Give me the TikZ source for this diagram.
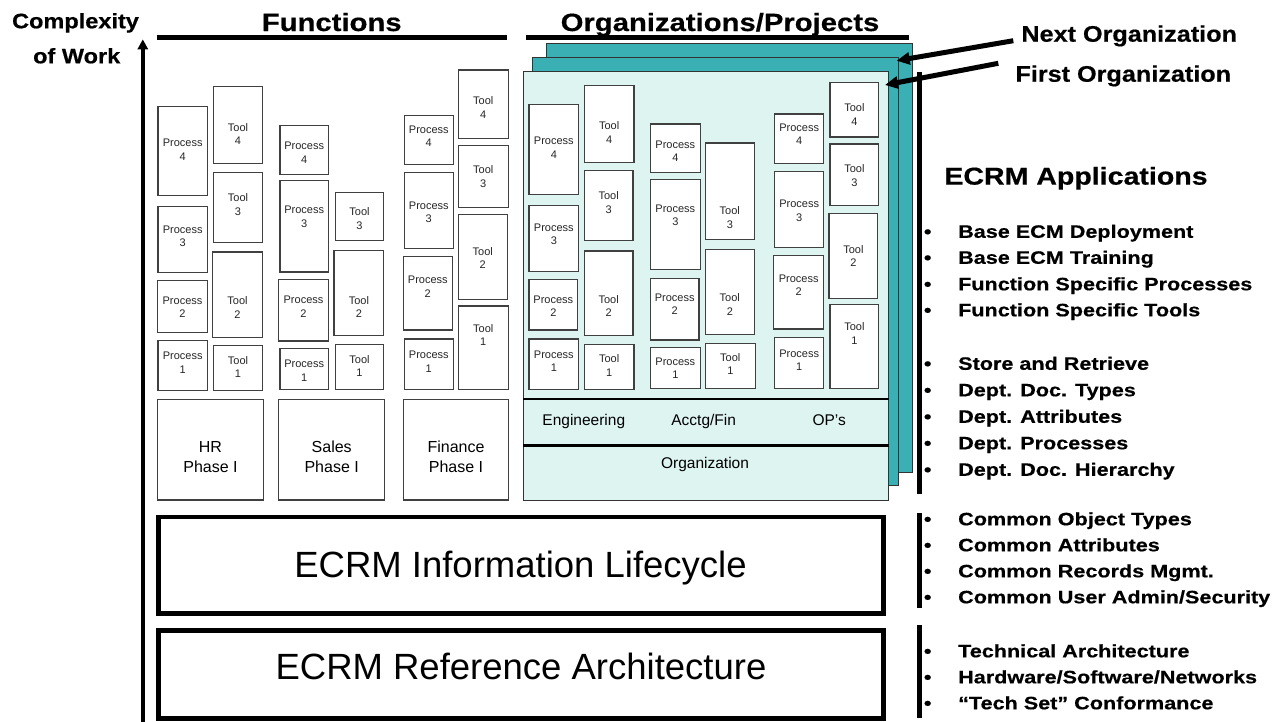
\documentclass[tikz,border=0pt]{standalone}
\usepackage{fontspec}
\setmainfont{Liberation Sans}
\newfontfamily\headsans{Liberation Sans}[FakeStretch=1.17, BoldFeatures={FakeBold=0.5}]
\newfontfamily\notesans{Liberation Sans}[FakeStretch=1.12, BoldFeatures={FakeBold=0.5}]
\newfontfamily\listsans{Liberation Sans}[FakeStretch=1.2, BoldFeatures={FakeBold=0.5}]
\usetikzlibrary{arrows.meta}
\definecolor{sheetteal}{RGB}{58,175,180}
\definecolor{sheetpale}{RGB}{221,244,241}
\definecolor{cellline}{RGB}{64,64,64}
\newcommand\bul{\makebox[34.3pt][l]{\textbullet}}
\tikzset{
  sheet/.style={draw=black!80, line width=1pt, rectangle, inner sep=0pt},
  cell/.style={draw=cellline, line width=1.1pt, fill=white, rectangle, inner sep=0pt},
  celltext/.style={align=center, inner sep=0pt, text=black!85,
    font=\fontsize{11}{13.3}\selectfont},
  phasetext/.style={align=center, inner sep=0pt, font=\fontsize{16}{20}\selectfont},
  orgtext/.style={inner sep=0pt, anchor=base, font=\fontsize{15.5}{18}\selectfont},
  bigbox/.style={draw=black, line width=4.5pt, fill=white, rectangle, inner sep=0pt},
  bigtext/.style={inner sep=0pt, anchor=base, font=\fontsize{36.5}{40}\selectfont},
  headtext/.style={inner sep=0pt, anchor=base, font=\headsans\bfseries\fontsize{25}{30}\selectfont},
  notetext/.style={inner sep=0pt, anchor=base, font=\notesans\bfseries\fontsize{21}{25}\selectfont},
  pointer/.style={line width=5pt, -{Triangle[length=13pt,width=12pt]}},
  listtext/.style={inner sep=0pt, anchor=base west, font=\listsans\bfseries\fontsize{18}{22}\selectfont},
  rule/.style={line width=5pt},
  bar/.style={line width=4.5pt},
}
\begin{document}
\begin{tikzpicture}[x=1pt,y=-1pt]
\useasboundingbox (0,0) rectangle (1284,721);
\fill[white] (0,0) rectangle (1284,721);

% headings and their rules
\node[headtext] (functions) at (331.7,31) {Functions};
\node[headtext] (orgs) at (720,31) {Organizations/Projects};
\draw[rule] (156.7,37.7) -- (506.7,37.7);
\draw[rule] (526,37.7) -- (909,37.7);

% vertical axis
\node[notetext] (cx1) at (75.5,28.3) {Complexity};
\node[notetext] (cx2) at (76.7,63.3) {of Work};
\coordinate (axbot) at (142.8,722);
\coordinate (axtop) at (142.8,39.3);
\draw[line width=4.5pt, -{Triangle[length=10pt,width=10pt]}] (axbot) -- (axtop);

% stacked organization sheets
\node[sheet, fill=sheetteal, minimum width=365.8pt, minimum height=428.7pt] (backsheet) at (729.6,257.65) {};
\node[sheet, fill=sheetteal, minimum width=366.2pt, minimum height=427.8pt] (midsheet) at (715.4,271.6) {};
\node[sheet, fill=sheetpale, minimum width=365.4pt, minimum height=428.8pt] (frontsheet) at (706,286.1) {};
\draw[line width=2.5pt] (523.3,399) -- (888.7,399);
\draw[line width=2.5pt] (523.3,445.7) -- (888.7,445.7);
\node[orgtext] (eng) at (583.8,425) {Engineering};
\node[orgtext] (acc) at (703.7,425) {Acctg/Fin};
\node[orgtext] (ops) at (829.2,425) {OP’s};
\node[orgtext] (organization) at (705,468) {Organization};

% process and tool cells
\foreach \nm/\xa/\ya/\xb/\yb/\lab/\num/\ty in {
  hrP4/158/106.7/207.3/195.7/Process/4/149.7,
  hrT4/213.7/86.7/262.3/163.7/Tool/4/134,
  hrP3/158/206.7/207.3/272.7/Process/3/236.2,
  hrT3/213.7/172.7/262.3/242.3/Tool/3/204.5,
  hrP2/157.7/280.7/207.3/332.3/Process/2/307.5,
  hrT2/212.7/252/262.3/337.7/Tool/2/307.5,
  hrP1/158/340.3/207.3/390.7/Process/1/362.7,
  hrT1/213.7/345.7/262.3/390.7/Tool/1/366.7,
  saP4/280/125.3/328.3/174.7/Process/4/152.7,
  saP3/280/180.3/328.3/272/Process/3/216.7,
  saT3/335.3/192.3/383.7/240.7/Tool/3/218.5,
  saP2/278.7/279.7/328.3/341/Process/2/306.7,
  saT2/334/250.7/383.7/335.3/Tool/2/306.7,
  saP1/280/348.7/328.3/389.3/Process/1/370.7,
  saT1/335.3/344.3/383.7/389.3/Tool/1/365.7,
  fiP4/404.3/115.3/453.3/164.7/Process/4/136.3,
  fiT4/458.3/70/508.3/138.3/Tool/4/107.5,
  fiP3/404.3/172.7/453.3/248.3/Process/3/212.5,
  fiT3/458.3/145.3/508.3/207.7/Tool/3/176.7,
  fiP2/403.3/256.3/452.3/330/Process/2/286.8,
  fiT2/458.3/214.7/507.3/299.3/Tool/2/257.7,
  fiP1/404.3/339/453.3/389.3/Process/1/361.7,
  fiT1/458.3/306/508.3/389.3/Tool/1/335.2,
  enP4/529/104.3/578.7/194.3/Process/4/147.8,
  enT4/584.3/85.7/634/162.3/Tool/4/132.5,
  enP3/529/205.7/578.7/271.7/Process/3/234.5,
  enT3/584.3/170.3/633/240.7/Tool/3/202.5,
  enP2/529/279.7/577.7/330/Process/2/306.3,
  enT2/584.3/251/633/335.3/Tool/2/306.3,
  enP1/529/339/578.7/389.3/Process/1/361.5,
  enT1/584.3/344.7/634/389.3/Tool/1/365.5,
  acP4/650.3/124/700.3/172.3/Process/4/151.5,
  acP3/650.3/179.3/700.3/269.3/Process/3/215.5,
  acT3/705.3/143/754.3/239.7/Tool/3/217.5,
  acP2/650.3/278.3/699/340/Process/2/304.5,
  acT2/705.3/249.7/754.3/334.3/Tool/2/304.5,
  acP1/650.3/347.7/700.3/388.3/Process/1/368.5,
  acT1/705.3/343.3/755.3/388.3/Tool/1/364,
  opP4/774.7/114/823.7/163.3/Process/4/134.5,
  opT4/830/82.3/878.7/137/Tool/4/114.5,
  opP3/774.7/171.7/823.7/247.3/Process/3/210.8,
  opT3/830/144/878.7/205.7/Tool/3/175.5,
  opP2/773.7/255.3/823.7/329/Process/2/285.5,
  opT2/829/213.7/877.7/298.3/Tool/2/255.8,
  opP1/774.7/337.7/823.7/388.3/Process/1/360,
  opT1/830/304.7/878.7/388.3/Tool/1/333.5}{
  \pgfmathsetmacro\cxx{(\xa+\xb)/2}
  \pgfmathsetmacro\cyy{(\ya+\yb)/2}
  \pgfmathsetmacro\ww{\xb-\xa}
  \pgfmathsetmacro\hh{\yb-\ya}
  \node[cell, minimum width=\ww pt, minimum height=\hh pt] (\nm) at (\cxx,\cyy) {};
  \node[celltext] (\nm-t) at (\cxx,\ty) {\lab\\\num};
}

% function phase boxes
\node[cell, minimum width=105.6pt, minimum height=100.3pt] (hr) at (210.5,449.85) {};
\node[cell, minimum width=106pt, minimum height=100.3pt] (sales) at (331.7,449.85) {};
\node[cell, minimum width=105.4pt, minimum height=100.3pt] (finance) at (456,449.85) {};
\node[phasetext] (hr-t) at (210.5,456.7) {HR\\Phase I};
\node[phasetext] (sales-t) at (331.7,456.7) {Sales\\Phase I};
\node[phasetext] (finance-t) at (456,456.7) {Finance\\Phase I};

% foundation layers
\node[bigbox, minimum width=724.8pt, minimum height=96.3pt] (lifecycle) at (521.1,565.15) {};
\node[bigtext] (lifecycle-t) at (520.5,577.6) {ECRM Information Lifecycle};
\node[bigbox, minimum width=724.8pt, minimum height=88.2pt] (refarch) at (521.1,674.4) {};
\node[bigtext] (refarch-t) at (521,679.8) {ECRM Reference Architecture};

% sheet callouts
\node[notetext, font=\notesans\bfseries\fontsize{22.5}{26}\selectfont] (nextorg) at (1129.2,41.7) {Next Organization};
\node[notetext, font=\notesans\bfseries\fontsize{22.5}{26}\selectfont] (firstorg) at (1123.3,81.7) {First Organization};
\coordinate (nextfrom) at (1013.3,40.7);
\coordinate (nexttip) at (896.7,60.7);
\coordinate (firstfrom) at (998.3,63.3);
\coordinate (firsttip) at (885,85);
\draw[pointer] (nextfrom) -- (nexttip);
\draw[pointer] (firstfrom) -- (firsttip);

% brackets of the right-hand lists
\draw[bar] (919.5,71.7) -- (919.5,494);
\draw[bar] (919.5,513.3) -- (919.5,608.3);
\draw[bar] (919.5,625) -- (919.5,718);

\node[headtext, font=\headsans\bfseries\fontsize{24.4}{30}\selectfont] (apps) at (1076,184.6) {ECRM Applications};

\node[listtext] (b1) at (923.7,237.8) {\bul Base ECM Deployment};
\node[listtext] (b2) at (923.7,263.8) {\bul Base ECM Training};
\node[listtext] (b3) at (923.7,290.3) {\bul Function Specific Processes};
\node[listtext] (b4) at (923.7,316.3) {\bul Function Specific Tools};
\node[listtext] (b5) at (923.7,369.8) {\bul Store and Retrieve};
\node[listtext] (b6) at (923.7,396.3) {\bul Dept. Doc. Types};
\node[listtext] (b7) at (923.7,422.8) {\bul Dept. Attributes};
\node[listtext] (b8) at (923.7,449.3) {\bul Dept. Processes};
\node[listtext] (b9) at (923.7,475.8) {\bul Dept. Doc. Hierarchy};

\node[listtext] (b10) at (923.7,525.3) {\bul Common Object Types};
\node[listtext] (b11) at (923.7,551.3) {\bul Common Attributes};
\node[listtext] (b12) at (923.7,577.3) {\bul Common Records Mgmt.};
\node[listtext] (b13) at (923.7,603.3) {\bul Common User Admin/Security};

\node[listtext] (b14) at (923.7,657.3) {\bul Technical Architecture};
\node[listtext] (b15) at (923.7,683.3) {\bul Hardware/Software/Networks};
\node[listtext] (b16) at (923.7,709.3) {\bul “Tech Set” Conformance};
\end{tikzpicture}
\end{document}
